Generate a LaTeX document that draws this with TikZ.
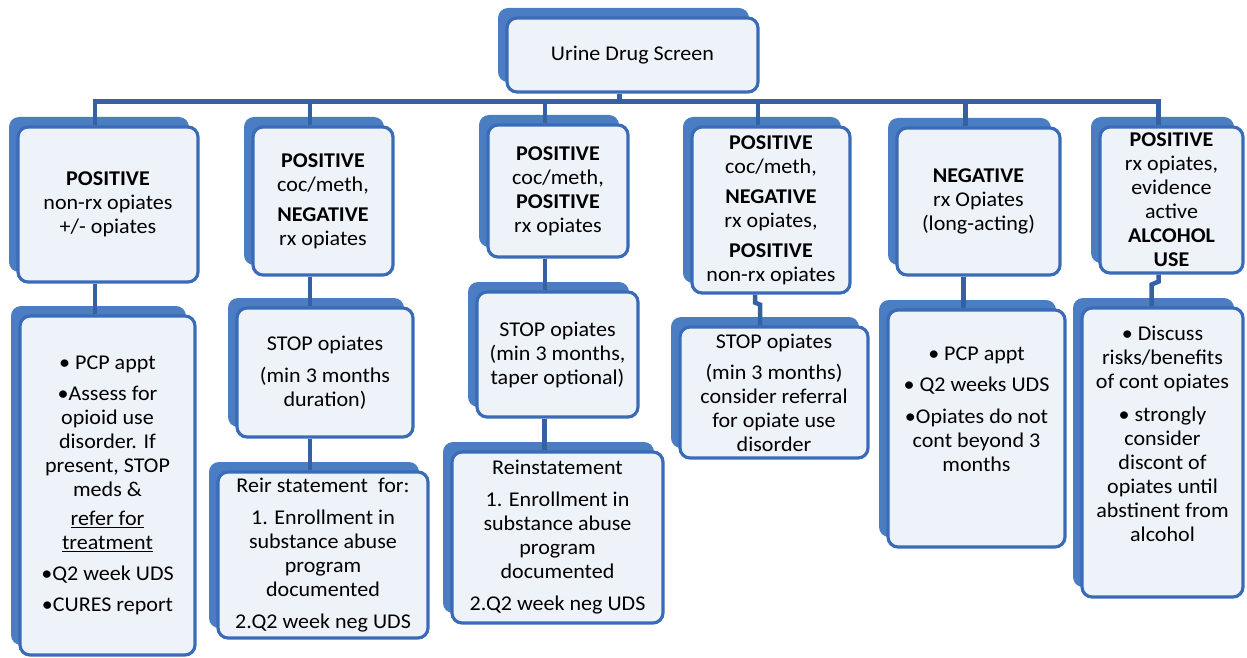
\documentclass[tikz,border=0pt]{standalone}
\usepackage{fontspec}
\setmainfont{Carlito}[FakeStretch=1.05]
\usetikzlibrary{shadows}

\definecolor{cardblue}{HTML}{3A6BB8}
\definecolor{backblue}{HTML}{4A7DC2}
\definecolor{cardfill}{HTML}{EEF2F9}
\definecolor{linkblue}{HTML}{3560A4}

\begin{document}
\begin{tikzpicture}[x=1pt, y=-1pt,
	card/.style={draw=cardblue, line width=3.2pt, rounded corners=10pt, fill=cardfill,
		align=center, inner sep=2pt, text=black, font=\fontsize{21}{24}\selectfont,
		general shadow={fill=backblue, shadow xshift=-9pt, shadow yshift=10pt}},
	link/.style={draw=linkblue, line width=4.5pt, line join=miter}]
	\useasboundingbox (0,0) rectangle (1247,658);
	
	% top
	\node[card, minimum width=251, minimum height=74] (uds) at (632.5,55) {Urine Drug Screen};
	
	% results row
	\node[card, minimum width=180, minimum height=155] (cond1) at (108,204.5)
		{\textbf{POSITIVE}\\ non-rx opiates\\ +/- opiates};
	\node[card, minimum width=140, minimum height=148] (cond2) at (323,201)
		{\textbf{POSITIVE}\\ coc/meth,\\[6pt] \textbf{NEGATIVE}\\ rx opiates};
	\node[card, minimum width=140, minimum height=132] (cond3) at (558,191)
		{\textbf{POSITIVE}\\ coc/meth,\\ \textbf{POSITIVE}\\ rx opiates};
	\node[card, minimum width=158, minimum height=166] (cond4) at (771,210)
		{\textbf{POSITIVE}\\ coc/meth,\\[6pt] \textbf{NEGATIVE}\\ rx opiates,\\[6pt] \textbf{POSITIVE}\\ non-rx opiates};
	\node[card, minimum width=163, minimum height=147] (cond5) at (978.5,201.5)
		{\textbf{NEGATIVE}\\ rx Opiates\\ (long-acting)};
	\node[card, minimum width=143, minimum height=146] (cond6) at (1171.5,200)
		{\textbf{POSITIVE}\\ rx opiates,\\ evidence\\ active\\ \textbf{ALCOHOL}\\ \textbf{USE}};
	
	% actions
	\node[card, minimum width=175, minimum height=339] (plan1) at (107.5,485.5)
		{• PCP appt\\[7pt] •Assess for\\ opioid use\\ disorder. If\\ present, STOP\\ meds \&\\[5pt]
		 \underline{refer for}\\ \underline{treatment}\\[7pt] •Q2 week UDS\\[7pt] •CURES report};
	\node[card, minimum width=176, minimum height=129] (plan2) at (325,372.5)
		{STOP opiates\\[8pt] (min 3 months\\ duration)};
	\node[card, minimum width=210, minimum height=166] (back2) at (323,555)
		{Reir statement~ for:\\[8pt] 1. Enrollment in\\ substance abuse\\ program\\ documented\\[8pt] 2.Q2 week neg UDS};
	\node[card, minimum width=161, minimum height=125] (plan3) at (557.5,354.5)
		{STOP opiates\\ (min 3 months,\\ taper optional)};
	\node[card, minimum width=211, minimum height=171] (back3) at (557.5,537.5)
		{Reinstatement\\[8pt] 1. Enrollment in\\ substance abuse\\ program\\ documented\\[8pt] 2.Q2 week neg UDS};
	\node[card, minimum width=188, minimum height=131] (plan4) at (774,392.5)
		{STOP opiates\\[7pt] (min 3 months)\\ consider referral\\ for opiate use\\ disorder};
	\node[card, minimum width=177, minimum height=237] (plan5) at (976.5,428.5)
		{\parbox[c][164pt][t]{172pt}{\centering • PCP appt\\[7pt] • Q2 weeks UDS\\[8pt] •Opiates do not\\ cont beyond 3\\ months}};
	\node[card, minimum width=161, minimum height=289] (plan6) at (1162.5,452.5)
		{\parbox[c][252pt][t]{157pt}{\centering • Discuss\\ risks/benefits\\ of cont opiates\\[9pt] • strongly\\ consider\\ discont of\\ opiates until\\ abstinent from\\ alcohol}};
	
	% connectors
	\draw[link] ([xshift=-13pt]uds.south) -- ++(0,8) coordinate (bus);
	\foreach \c in {cond1,cond2,cond3,cond4,cond5,cond6}
		\draw[link] (bus) -| ([xshift=-13pt]\c.north);
	\draw[link] ([xshift=-13pt]cond1.south) -- ([xshift=-13pt]cond1.south |- plan1.north);
	\draw[link] ([xshift=-13pt]cond2.south) -- ([xshift=-13pt]cond2.south |- plan2.north);
	\draw[link] ([xshift=-15pt]plan2.south) -- ([xshift=-15pt]plan2.south |- back2.north);
	\draw[link] ([xshift=-13pt]cond3.south) -- ([xshift=-13pt]cond3.south |- plan3.north);
	\draw[link] ([xshift=-13pt]plan3.south) -- ([xshift=-13pt]plan3.south |- back3.north);
	\draw[link] ([xshift=-16pt]cond4.south) -- ++(0,8) -- ++(5,2) coordinate (j4) -- (j4 |- plan4.north);
	\draw[link] ([xshift=-15pt]cond5.south) -- ([xshift=-15pt]cond5.south |- plan5.north);
	\draw[link] ([xshift=-13pt]cond6.south) -- ++(0,7) -- ++(-7,3) coordinate (j6) -- (j6 |- plan6.north);
\end{tikzpicture}
\end{document}
